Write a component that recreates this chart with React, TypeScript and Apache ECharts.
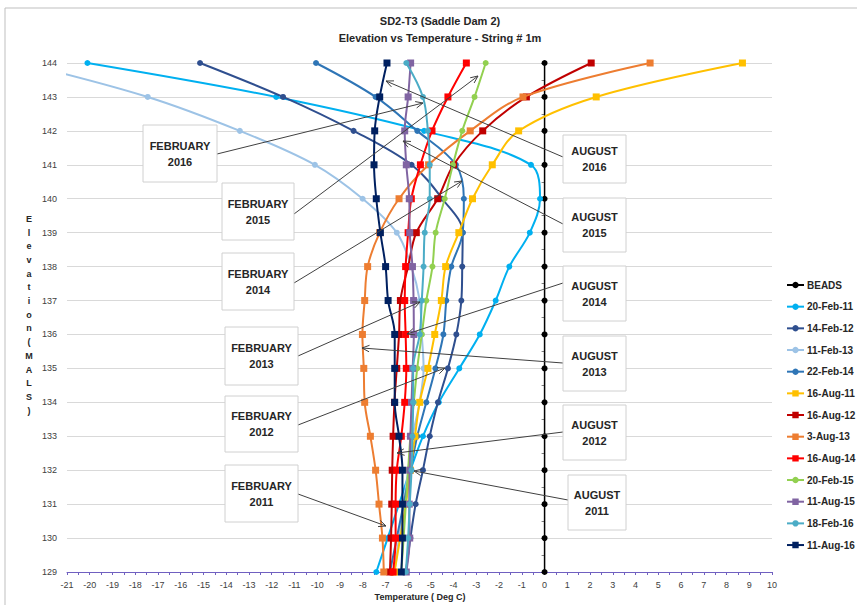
import React, { useEffect, useRef } from "react";
import * as echarts from "echarts";

// Elevation levels (MALS), top to bottom
const elevations = [144, 143, 142, 141, 140, 139, 138, 137, 136, 135, 134, 133, 132, 131, 130, 129];
const xTicks = { min: -21, max: 10, step: 1 };

// Temperatures (Deg C) per elevation
const beads = [0, 0, 0, 0, 0, 0, 0, 0, 0, 0, 0, 0, 0, 0, 0, 0];
const feb11 = [-20.1, -11.8, -5.3, -0.6, -0.2, -0.65, -1.55, -2.15, -2.85, -3.75, -4.65, -5.35, -5.9, -6.4, -6.9, -7.4];
const feb12 = [-15.15, -11.5, -8.4, -5.85, -4.5, -3.6, -3.62, -3.66, -3.88, -4.25, -4.69, -5.05, -5.35, -5.67, -5.9, -6.1];
const feb13 = [-23.0, -17.45, -13.4, -10.1, -8.0, -6.5, -5.86, -5.49, -5.4, -5.32, -5.5, -5.8, -6.0, -6.2, -6.4, -6.6];
const feb14 = [-10.05, -7.43, -5.6, -3.9, -3.55, -3.6, -4.1, -4.32, -4.45, -4.8, -5.2, -5.6, -5.9, -6.2, -6.5, -6.8];
const aug11 = [8.7, 2.27, -1.14, -2.3, -3.17, -3.77, -4.35, -4.54, -4.83, -5.13, -5.49, -5.7, -5.9, -6.1, -6.35, -6.6];
const aug12 = [2.05, -0.8, -2.72, -4.0, -4.7, -5.64, -6.0, -6.34, -6.4, -6.5, -6.6, -6.66, -6.7, -6.72, -6.75, -6.8];
const aug13 = [4.64, -0.95, -3.27, -5.1, -6.4, -7.25, -7.78, -7.91, -8.01, -7.95, -7.91, -7.66, -7.43, -7.28, -7.13, -7.07];
const aug14 = [-3.44, -4.25, -4.95, -5.46, -5.86, -6.0, -6.11, -6.15, -6.11, -6.08, -6.15, -6.3, -6.5, -6.55, -6.55, -6.66];
const feb15 = [-2.59, -3.08, -3.62, -4.03, -4.39, -4.79, -4.93, -5.2, -5.4, -5.6, -5.75, -5.9, -6.0, -6.1, -6.2, -6.3];
const aug15 = [-5.89, -6.0, -6.15, -6.08, -5.95, -5.93, -5.81, -5.76, -5.75, -5.8, -5.85, -5.9, -5.93, -5.95, -5.93, -6.08];
const feb16 = [-6.08, -5.35, -5.13, -5.05, -5.05, -5.27, -5.32, -5.4, -5.49, -5.78, -5.78, -5.81, -5.85, -5.93, -6.0, -6.1];
const aug16 = [-6.93, -7.25, -7.47, -7.5, -7.4, -7.22, -6.99, -6.88, -6.59, -6.59, -6.59, -6.4, -6.25, -6.25, -6.25, -6.3];

const seriesNames = ["BEADS", "20-Feb-11", "14-Feb-12", "11-Feb-13", "22-Feb-14", "16-Aug-11", "16-Aug-12", "3-Aug-13", "16-Aug-14", "20-Feb-15", "11-Aug-15", "18-Feb-16", "11-Aug-16"];
const seriesValues = [beads, feb11, feb12, feb13, feb14, aug11, aug12, aug13, aug14, feb15, aug15, feb16, aug16];
const seriesColors = ["#000000", "#00B0F0", "#2F4F8F", "#9DC3E6", "#2E75B6", "#FFC000", "#C00000", "#ED7D31", "#FF0000", "#92D050", "#8064A2", "#4BACC6", "#002060"];
const seriesSymbols = ["circle", "circle", "circle", "circle", "circle", "rect", "rect", "rect", "rect", "circle", "rect", "circle", "rect"];

// Annotation boxes: [x, y, w, h, line1, line2] (pixels)
const boxes: [number, number, number, number, string, string][] = [
  [143, 125, 74, 57, "FEBRUARY", "2016"],
  [222, 183, 72, 57, "FEBRUARY", "2015"],
  [222, 253, 72, 57, "FEBRUARY", "2014"],
  [225, 327, 73, 58, "FEBRUARY", "2013"],
  [225, 396, 73, 56, "FEBRUARY", "2012"],
  [225, 465, 73, 57, "FEBRUARY", "2011"],
  [563, 135, 63, 48, "AUGUST", "2016"],
  [563, 198, 63, 54, "AUGUST", "2015"],
  [563, 266, 63, 55, "AUGUST", "2014"],
  [563, 336, 63, 55, "AUGUST", "2013"],
  [563, 405, 63, 55, "AUGUST", "2012"],
  [568, 475, 58, 55, "AUGUST", "2011"],
];
// Arrows: [fromX, fromY, toX, toY] (pixels), head at "to"
const arrows: [number, number, number, number][] = [
  [217, 154, 423, 103],
  [294, 214, 478, 76],
  [294, 283, 462, 181],
  [298, 356, 420, 302],
  [298, 425, 445, 368],
  [298, 494, 386, 526],
  [563, 157, 386, 81],
  [563, 224, 403, 141],
  [563, 283, 407, 334],
  [563, 363, 362, 348],
  [563, 432, 397, 453],
  [568, 500, 414, 471],
];

const FONT = "'Liberation Sans', Arial, sans-serif";

export default function App() {
  const ref = useRef<HTMLDivElement>(null);
  useEffect(() => {
    if (!ref.current) return;
    const chart = echarts.init(ref.current, undefined, { renderer: "svg" });

    const series: any[] = seriesNames.map((name, i) => ({
      name,
      type: "line",
      xAxisIndex: 0,
      yAxisIndex: 0,
      data: seriesValues[i].map((v, j) => [v, elevations[j]]),
      smooth: i === 0 ? false : 0.35,
      symbol: seriesSymbols[i],
      symbolSize: seriesSymbols[i] === "rect" ? 7 : 6,
      color: seriesColors[i],
      lineStyle: { width: i === 0 ? 1.5 : 2, color: seriesColors[i] },
      itemStyle: { color: seriesColors[i] },
      clip: true,
      z: 3 + i * 0.01,
    }));

    const graphics: any[] = [];
    graphics.push({
      type: "rect",
      shape: { x: 5, y: 8, width: 900, height: 700 },
      style: { fill: "none", stroke: "#BFBFBF", lineWidth: 1 },
      silent: true,
      z: 0,
    });
    graphics.push({
      type: "text",
      x: 440,
      y: 12,
      style: {
        text: "SD2-T3 (Saddle Dam 2)\nElevation vs Temperature - String # 1m",
        fontSize: 11,
        fontWeight: "bold",
        fontFamily: FONT,
        fill: "#262626",
        align: "center",
        lineHeight: 17,
      },
      z: 10,
    });
    graphics.push({
      type: "text",
      x: 420,
      y: 592,
      style: {
        text: "Temperature ( Deg C)",
        fontSize: 9,
        fontWeight: "bold",
        fontFamily: FONT,
        fill: "#262626",
        align: "center",
      },
      z: 10,
    });
    graphics.push({
      type: "text",
      x: 29,
      y: 212,
      style: {
        text: "E\nl\ne\nv\na\nt\ni\no\nn\n(\nM\nA\nL\nS\n)",
        fontSize: 9,
        fontWeight: "bold",
        fontFamily: FONT,
        fill: "#262626",
        align: "center",
        lineHeight: 13.7,
      },
      z: 10,
    });

    arrows.forEach(([x1, y1, x2, y2]) => {
      const th = Math.atan2(y2 - y1, x2 - x1);
      const L = 8;
      const a = 0.42;
      graphics.push({
        type: "line",
        shape: { x1, y1, x2, y2 },
        style: { stroke: "#404040", lineWidth: 1 },
        z: 20,
      });
      graphics.push({
        type: "polyline",
        shape: {
          points: [
            [x2 - L * Math.cos(th - a), y2 - L * Math.sin(th - a)],
            [x2, y2],
            [x2 - L * Math.cos(th + a), y2 - L * Math.sin(th + a)],
          ],
        },
        style: { stroke: "#404040", lineWidth: 1, fill: "none" },
        z: 20,
      });
    });

    boxes.forEach(([x, y, w, h, t1, t2]) => {
      graphics.push({
        type: "rect",
        shape: { x, y, width: w, height: h },
        style: { fill: "#FFFFFF", stroke: "#D0D0D0", lineWidth: 1 },
        z: 21,
      });
      graphics.push({
        type: "text",
        x: x + w / 2,
        y: y + h / 2,
        style: {
          text: t1 + "\n" + t2,
          fontSize: 11,
          fontWeight: "bold",
          fontFamily: FONT,
          fill: "#262626",
          align: "center",
          verticalAlign: "middle",
          lineHeight: 16,
        },
        z: 22,
      });
    });

    chart.setOption({
      animation: false,
      backgroundColor: "#FFFFFF",
      textStyle: { fontFamily: FONT },
      grid: { left: 67, right: 85, top: 63, bottom: 33, containLabel: false },
      legend: {
        orient: "vertical",
        left: 781,
        top: 273,
        itemGap: 7.67,
        itemWidth: 17,
        itemHeight: 8,
        data: seriesNames,
        textStyle: { fontSize: 10, fontWeight: "bold", color: "#262626", lineHeight: 14, fontFamily: FONT, padding: [0, 0, 0, -2] },
        selectedMode: false,
      },
      xAxis: {
        type: "value",
        min: xTicks.min,
        max: xTicks.max,
        interval: xTicks.step,
        axisLine: { onZero: false, lineStyle: { color: "#7060C0", width: 1 } },
        axisTick: { show: true, length: 3, lineStyle: { color: "#7060C0" } },
        minorTick: { show: true, splitNumber: 2, length: 3, lineStyle: { color: "#7060C0" } },
        axisLabel: { fontSize: 9, color: "#404040", margin: 8, fontFamily: FONT },
        splitLine: { show: false },
      },
      yAxis: [
        {
          type: "value",
          min: 129,
          max: 144,
          interval: 1,
          position: "left",
          axisLine: { show: false, onZero: false },
          axisTick: { show: false },
          axisLabel: { fontSize: 9, color: "#404040", margin: 10, fontFamily: FONT },
          splitLine: { show: true, lineStyle: { color: "#D9D9D9", width: 1 } },
        },
        {
          type: "value",
          min: 129,
          max: 144,
          interval: 1,
          position: "left",
          axisLine: { show: true, onZero: true, lineStyle: { color: "#000000" } },
          axisTick: { show: true, length: 3, lineStyle: { color: "#000000" } },
          minorTick: { show: true, splitNumber: 2, length: 3, lineStyle: { color: "#808080" } },
          axisLabel: { show: false },
          splitLine: { show: false },
        },
      ],
      series,
      graphic: graphics,
    });

    return () => chart.dispose();
  }, []);

  return (
    <div
      ref={ref}
      style={{ position: "fixed", left: 0, top: 0, width: 857, height: 605, background: "#fff" }}
    />
  );
}
